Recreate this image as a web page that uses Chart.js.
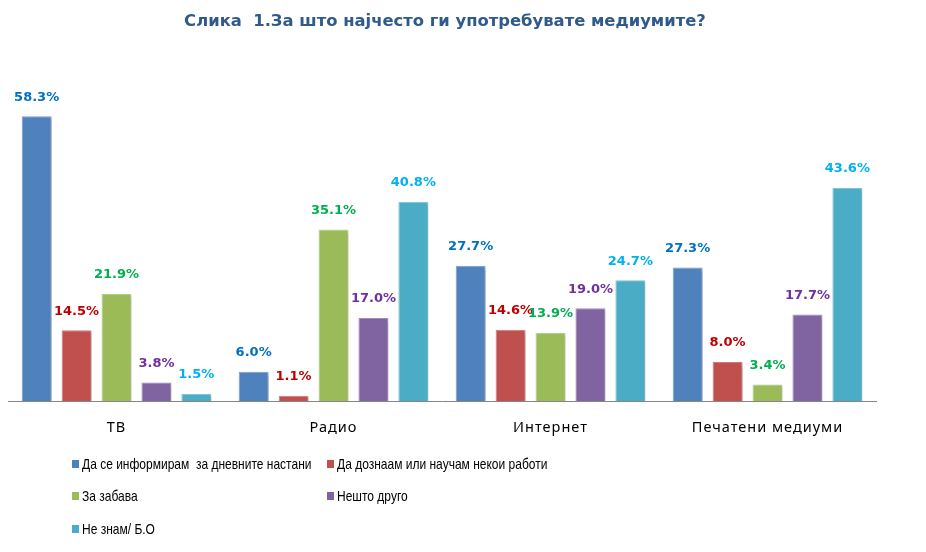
<!DOCTYPE html>
<html>
<head>
<meta charset="utf-8">
<script src="https://cdn.jsdelivr.net/npm/chart.js@4.4.1/dist/chart.umd.min.js"></script>
<style>
  body { margin: 0; background: #fff; }
  #wrap { position: relative; width: 926px; height: 552px; }
  #chart { position: absolute; left: 0; top: 0; }
  #title { position: absolute; left: 0; top: 11px; width: 890px; text-align: center; white-space: pre;
    font: bold 16.4px "DejaVu Sans", sans-serif; color: #30598C; }
  .lg { position: absolute; font: 15px "Liberation Sans", sans-serif; color: #000; white-space: pre; }
  .lg span.mk { display: inline-block; width: 7px; height: 8px; margin-right: 3px; vertical-align: 1px; }
  .lg span.tx { display: inline-block; transform: scaleX(0.8); transform-origin: 0 50%; }
</style>
</head>
<body>
<div id="wrap">
  <canvas id="chart" width="926" height="552"></canvas>
  <div id="title">Слика  1.За што најчесто ги употребувате медиумите?</div>
  <div id="legend"></div>
</div>
<script>
// media categories
const categories = ['ТВ', 'Радио', 'Интернет', 'Печатени медиуми'];

// answers (series)
const seriesNames = [
    'Да се информирам  за дневните настани',
    'Да дознаам или научам некои работи',
    'За забава',
    'Нешто друго',
    'Не знам/ Б.О'
];

// percentages, one array per answer
const informVals = [58.3, 6.0, 27.7, 27.3];
const learnVals = [14.5, 1.1, 14.6, 8.0];
const funVals = [21.9, 35.1, 13.9, 3.4];
const otherVals = [3.8, 17.0, 19.0, 17.7];
const dkVals = [1.5, 40.8, 24.7, 43.6];

const barColors = ['#4F81BD', '#C0504D', '#9BBB59', '#8064A2', '#4BACC6'];
const edgeColors = ['#7A9FD0', '#D27C7A', '#B5CF85', '#A18CBF', '#7CC4D8'];
const labelColors = ['#0070C0', '#C00000', '#00B050', '#7030A0', '#00B0F0'];

const allVals = [informVals, learnVals, funVals, otherVals, dkVals];

// legend in two columns like the original
const legendPos = [[72, 455], [327, 455], [72, 487], [327, 487], [72, 520]];
const legendDiv = document.getElementById('legend');
seriesNames.forEach((name, i) => {
    const d = document.createElement('div');
    d.className = 'lg';
    d.style.left = legendPos[i][0] + 'px';
    d.style.top = legendPos[i][1] + 'px';
    d.innerHTML = `<span class="mk" style="background:${barColors[i]}"></span><span class="tx">${name}</span>`;
    legendDiv.appendChild(d);
});

// drop shadow behind bars, wider letter spacing for the axis labels
const shadowPlugin = {
    id: 'shadow',
    beforeDraw(chart) {
        chart.ctx.letterSpacing = '1px';
    },
    beforeDatasetsDraw(chart) {
        const ctx = chart.ctx;
        ctx.save();
        ctx.shadowColor = 'rgba(0,0,0,0.25)';
        ctx.shadowBlur = 3;
        ctx.shadowOffsetX = 2;
        ctx.shadowOffsetY = 2;
    },
    afterDatasetsDraw(chart) {
        chart.ctx.restore();
    }
};

// value labels above bars
const valueLabels = {
    id: 'valueLabels',
    afterDraw(chart) {
        const ctx = chart.ctx;
        ctx.save();
        ctx.letterSpacing = '0px';
        ctx.font = 'bold 13px "DejaVu Sans", sans-serif';
        ctx.textAlign = 'center';
        ctx.textBaseline = 'middle';
        chart.data.datasets.forEach((ds, i) => {
            const meta = chart.getDatasetMeta(i);
            ctx.fillStyle = labelColors[i];
            meta.data.forEach((bar, j) => {
                ctx.fillText(ds.data[j].toFixed(1) + '%', bar.x, bar.y - 19);
            });
        });
        ctx.restore();
    }
};

const ctx = document.getElementById('chart').getContext('2d');
new Chart(ctx, {
    type: 'bar',
    data: {
        labels: categories,
        datasets: allVals.map((vals, i) => ({
            label: seriesNames[i],
            data: vals,
            backgroundColor: barColors[i],
            borderColor: edgeColors[i],
            borderWidth: 1,
            categoryPercentage: 0.92,
            barPercentage: 0.75
        }))
    },
    options: {
        responsive: false,
        animation: false,
        layout: { padding: { left: 8, right: 50, top: 59, bottom: 111 } },
        plugins: {
            legend: { display: false },
            title: { display: false },
            tooltip: { enabled: false }
        },
        scales: {
            x: {
                grid: { display: false },
                border: { display: true, color: '#868686', width: 1 },
                ticks: { color: '#000', padding: 10, font: { family: 'Noto Sans', size: 14.5 } },
                afterFit(scale) { scale.height = 40; }
            },
            y: {
                display: false,
                min: 0,
                max: 70
            }
        }
    },
    plugins: [shadowPlugin, valueLabels]
});
</script>
</body>
</html>
